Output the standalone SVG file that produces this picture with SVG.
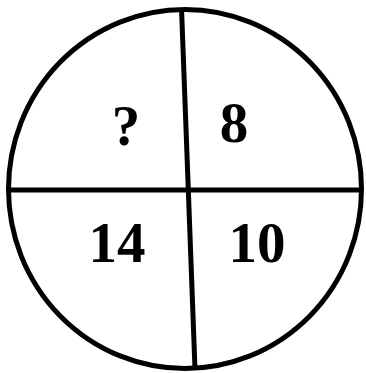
<svg xmlns="http://www.w3.org/2000/svg" width="366" height="373" viewBox="0 0 366 373">
<style>
.l{stroke:#000;stroke-width:5;fill:none}
.t{font-family:"Liberation Serif","DejaVu Serif",serif;font-weight:bold;font-size:57px;fill:#000;text-anchor:middle}
</style>
<rect width="366" height="373" fill="#fff"/>
<g id="circle"><ellipse class="l" cx="185" cy="189" rx="176.5" ry="179.5"/></g>
<g id="connectors">
<line class="l" x1="9" y1="190" x2="361" y2="190"/>
<line class="l" x1="181.5" y1="8" x2="195" y2="369"/>
</g>
<g id="q"><text class="t" x="126" y="145">?</text></g>
<g id="n8"><text class="t" x="234" y="142">8</text></g>
<g id="n14"><text class="t" x="117" y="262">14</text></g>
<g id="n10"><text class="t" x="257" y="262">10</text></g>
</svg>
